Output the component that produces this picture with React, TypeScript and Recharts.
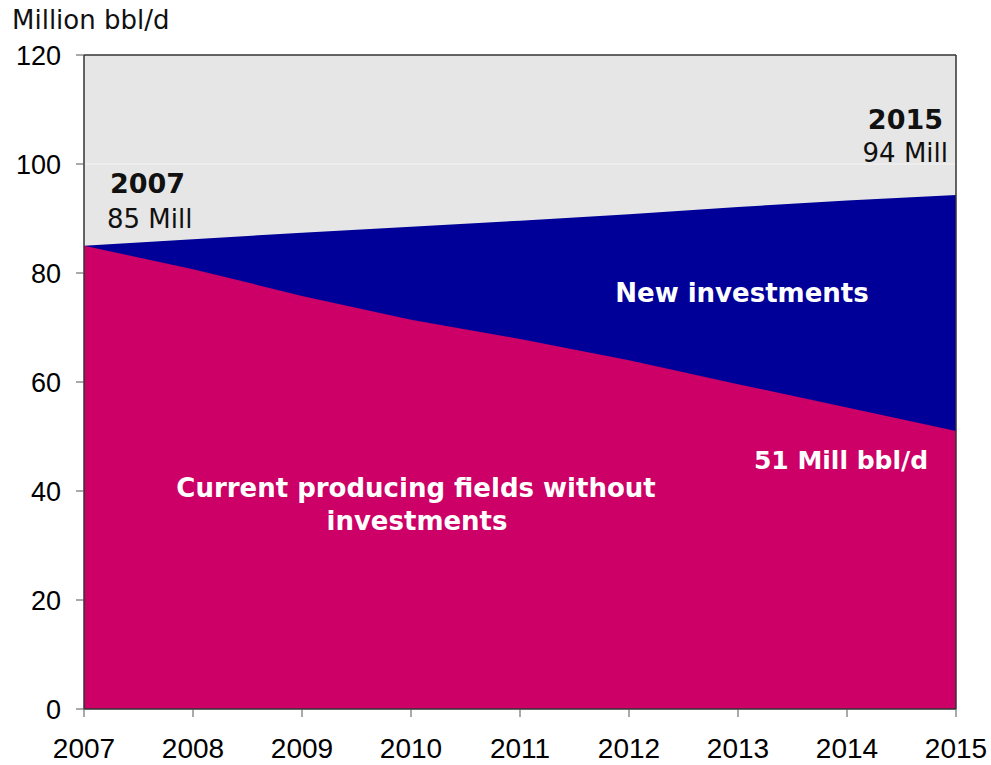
import React from 'react';
import {
  AreaChart,
  Area,
  XAxis,
  YAxis,
  CartesianGrid,
  ReferenceLine,
} from 'recharts';

const years = [2007, 2008, 2009, 2010, 2011, 2012, 2013, 2014, 2015];
const totalSupply = [85, 86.2, 87.4, 88.5, 89.6, 90.8, 92.1, 93.3, 94.3];
const currentFields = [85, 80.7, 75.8, 71.4, 67.9, 64.0, 59.6, 55.3, 51.0];
const yTicks = [0, 20, 40, 60, 80, 100, 120];

const BLUE = '#000099';
const MAGENTA = '#CC0066';
const BG = '#E6E6E6';
const AXIS = '#333333';

const chartData = years.map((year, i) => ({
  year,
  total: totalSupply[i],
  current: currentFields[i],
}));

const annoFont = '"DejaVu Sans", Verdana, sans-serif';
const tickFont = '"Liberation Sans", Arial, sans-serif';

// text overlay on top of the chart
const Annotations: React.FC = () => (
  <svg
    width={991}
    height={765}
    style={{ position: 'absolute', left: 0, top: 0, pointerEvents: 'none' }}
  >
    <text x={12} y={29} fontFamily={annoFont} fontSize={26} fill="#111">
      Million bbl/d
    </text>

    <text x={110} y={193} fontFamily={annoFont} fontSize={27} fontWeight="bold" fill="#111">
      2007
    </text>
    <text x={107} y={228} fontFamily={annoFont} fontSize={26} fill="#111">
      85 Mill
    </text>

    <text x={943} y={129} textAnchor="end" fontFamily={annoFont} fontSize={27} fontWeight="bold" fill="#111">
      2015
    </text>
    <text x={948} y={162} textAnchor="end" fontFamily={annoFont} fontSize={26} fill="#111">
      94 Mill
    </text>

    <text x={742} y={302} textAnchor="middle" fontFamily={annoFont} fontSize={26} fontWeight="bold" fill="#fff">
      New investments
    </text>

    <text x={841} y={469} textAnchor="middle" fontFamily={annoFont} fontSize={25} fontWeight="bold" fill="#fff">
      51 Mill bbl/d
    </text>

    <text x={416} y={497} textAnchor="middle" fontFamily={annoFont} fontSize={26} fontWeight="bold" fill="#fff">
      Current producing fields without
    </text>
    <text x={417} y={530} textAnchor="middle" fontFamily={annoFont} fontSize={26} fontWeight="bold" fill="#fff">
      investments
    </text>
  </svg>
);

export default function App() {
  return (
    <div style={{ position: 'absolute', left: 0, top: 0, width: 991, height: 765, background: '#fff' }}>
      <AreaChart
        width={991}
        height={765}
        data={chartData}
        margin={{ top: 55, right: 35, bottom: 0, left: 0 }}
      >
        <CartesianGrid vertical={false} stroke="#F5F5F5" fill={BG} fillOpacity={1} />
        <XAxis
          dataKey="year"
          type="number"
          domain={[2007, 2015]}
          ticks={years}
          height={56}
          tickSize={8}
          tickMargin={21}
          axisLine={{ stroke: AXIS, strokeWidth: 1.5 }}
          tickLine={{ stroke: '#555' }}
          tick={{ fill: '#000', fontSize: 28, fontFamily: tickFont }}
          interval={0}
        />
        <YAxis
          domain={[0, 120]}
          ticks={yTicks}
          width={84}
          tickSize={8}
          tickMargin={15}
          axisLine={{ stroke: AXIS, strokeWidth: 1.5 }}
          tickLine={{ stroke: '#555' }}
          tick={{ fill: '#000', fontSize: 27, fontFamily: tickFont }}
          interval={0}
        />
        <Area
          type="linear"
          dataKey="total"
          fill={BLUE}
          fillOpacity={1}
          stroke="none"
          isAnimationActive={false}
        />
        <Area
          type="linear"
          dataKey="current"
          fill={MAGENTA}
          fillOpacity={1}
          stroke="none"
          isAnimationActive={false}
        />
        <ReferenceLine y={120} stroke={AXIS} strokeWidth={1.5} />
        <ReferenceLine x={2015} stroke={AXIS} strokeWidth={1.5} />
      </AreaChart>
      <Annotations />
    </div>
  );
}
